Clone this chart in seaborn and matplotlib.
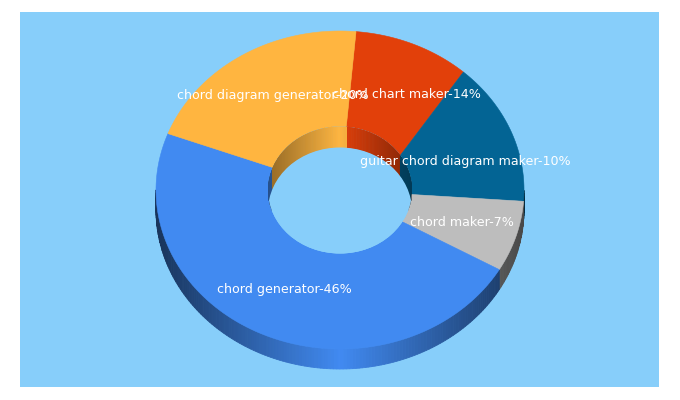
import numpy as np
import matplotlib
matplotlib.use("Agg")
import matplotlib.pyplot as plt
from matplotlib.colors import to_rgb
from matplotlib.patches import Ellipse
import seaborn as sns

# slices, clockwise from the top
names = ["chord chart maker", "guitar chord diagram maker", "chord maker",
         "chord generator", "chord diagram generator"]
label_pct = [14, 10, 7, 46, 20]
# the outer rim of the picture has the first two slices swapped
outer_pct = [10, 14, 7, 46, 20]
colors = ["#E2400A", "#036494", "#BDBDBD", "#418AF1", "#FFB540"]

# where each label starts in the picture (left edge, middle), px
label_x = [332, 360, 410, 217, 177]
label_y = [95, 162, 222, 290, 95]

BG = "#87CEFA"
START = 85
CX, CY = 340, 190
RX, RY = 184, 159
HX, HY = 72, 63.5
DEPTH = 20


def edges(pct):
    return START - np.concatenate([[0], np.cumsum(pct)]) / sum(pct) * 360


def ell(t, rx, ry, dy=0):
    t = np.radians(t)
    return CX + rx * np.cos(t), CY + dy - ry * np.sin(t)


def shade(c, x, half, amount):
    d = min(abs(x - CX) / half, 1)
    return np.array(to_rgb(c)) * (1 - amount * d)


sns.set_theme(style="white")
fig = plt.figure(figsize=(6.8, 4), dpi=100, facecolor="white")
ax = fig.add_axes([20 / 680, 13 / 400, 639 / 680, 375 / 400])
ax.set_xlim(20, 659)
ax.set_ylim(387, 12)
ax.set_facecolor(BG)
ax.set_xticks([])
ax.set_yticks([])
sns.despine(ax=ax, left=True, bottom=True)

out_e = edges(outer_pct)
in_e = edges(label_pct)

# outer side wall
for i, c in enumerate(colors):
    ts = np.arange(out_e[i], out_e[i + 1] - 1, -1.0)
    ts = np.clip(ts, out_e[i + 1], None)
    for a, b in zip(ts[:-1], ts[1:]):
        if np.sin(np.radians((a + b) / 2)) < 0:
            xa, ya = ell(a, RX, RY)
            xb, yb = ell(b, RX, RY)
            col = shade(c, (xa + xb) / 2, RX, 0.62)
            ax.fill([xa, xb, xb, xa], [ya, yb, yb + DEPTH, ya + DEPTH],
                    color=col, lw=0.6, zorder=2)

# top face, rim and hole edge each run on their own angles
for i, c in enumerate(colors):
    t_out = np.linspace(out_e[i], out_e[i + 1], 120)
    t_in = np.linspace(in_e[i + 1], in_e[i], 120)
    xo, yo = ell(t_out, RX, RY)
    xi, yi = ell(t_in, HX, HY)
    ax.fill(np.r_[xo, xi], np.r_[yo, yi], color=c, lw=0.4, zorder=3)

# hole
hole = Ellipse((CX, CY), 2 * HX, 2 * HY, fc=BG, ec="none", zorder=4)
ax.add_patch(hole)

# inner wall, seen only in the back half of the hole
for i, c in enumerate(colors):
    ts = np.arange(in_e[i], in_e[i + 1] - 1, -1.0)
    ts = np.clip(ts, in_e[i + 1], None)
    for a, b in zip(ts[:-1], ts[1:]):
        if np.sin(np.radians((a + b) / 2)) > -0.3:
            xa, ya = ell(a, HX, HY)
            xb, yb = ell(b, HX, HY)
            col = shade(c, (xa + xb) / 2, HX, 0.42)
            pts = ax.fill([xa, xb, xb, xa], [ya, yb, yb + DEPTH + 1, ya + DEPTH + 1],
                          color=col, lw=0.6, zorder=5)
            pts[0].set_clip_path(hole)

floor = Ellipse((CX, CY + DEPTH + 1), 2 * HX, 2 * HY, fc=BG, ec="none", zorder=6)
ax.add_patch(floor)
floor.set_clip_path(hole)

# labels
for name, pct, x, y in zip(names, label_pct, label_x, label_y):
    ax.text(x, y, f"{name}-{pct}%", color="white", fontsize=9.1,
            family="DejaVu Sans", ha="left", va="center", zorder=7)

fig.savefig("out.png", dpi=100)
